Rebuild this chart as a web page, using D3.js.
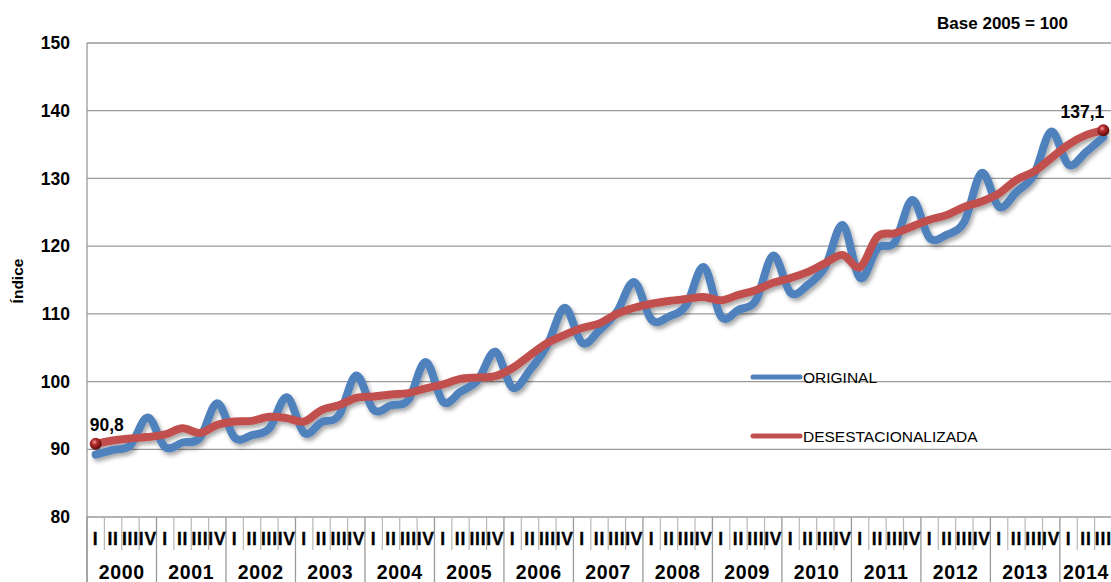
<!DOCTYPE html>
<html>
<head>
<meta charset="utf-8">
<script src="https://cdn.jsdelivr.net/npm/d3@7"></script>
<style>
  html, body { margin: 0; padding: 0; background: #fff; }
  svg { display: block; font-family: "Liberation Sans", Arial, sans-serif; }
</style>
</head>
<body>
<svg id="chart" width="1111" height="582"></svg>
<script>
// ---- Data ----
const years = ["2000","2001","2002","2003","2004","2005","2006","2007","2008","2009","2010","2011","2012","2013","2014"];
const quarterNames = ["I","II","III","IV"];
const yTicks = [80, 90, 100, 110, 120, 130, 140, 150];

const original = [
  89.2, 89.9, 90.6, 94.7,
  90.3, 91.0, 91.7, 96.8,
  91.7, 92.1, 93.1, 97.7,
  92.4, 94.0, 95.0, 100.9,
  95.8, 96.5, 97.3, 102.9,
  97.0, 98.5, 100.2, 104.4,
  99.1, 101.7, 105.4, 110.9,
  105.7, 107.6, 110.3, 114.7,
  109.1, 109.6, 111.3, 116.9,
  109.6, 110.6, 112.0, 118.6,
  113.1, 114.3, 117.0, 123.1,
  115.3, 119.7, 120.6, 126.8,
  121.2, 121.7, 123.6, 130.8,
  125.8, 128.0, 130.5, 136.9,
  132.0, 133.9, 136.1
];
const adjusted = [
  90.8, 91.3, 91.6, 91.8,
  92.2, 93.1, 92.4, 93.6,
  94.1, 94.2, 94.8, 94.6,
  94.1, 95.8, 96.5, 97.6,
  97.8, 98.1, 98.3, 99.0,
  99.6, 100.4, 100.6, 100.8,
  102.0, 103.9, 105.7, 106.9,
  107.9, 108.6, 110.0, 110.9,
  111.5, 111.9, 112.2, 112.5,
  112.0, 112.8, 113.5, 114.6,
  115.3, 116.2, 117.5, 118.7,
  116.9, 121.4, 121.9, 122.9,
  123.9, 124.6, 125.8, 126.6,
  127.8, 129.8, 131.0, 133.0,
  135.0, 136.4, 137.1
];
const seriesNames = ["ORIGINAL", "DESESTACIONALIZADA"];
const seriesColors = ["#4F81BD", "#C0504D"];

(function () {
// quarter ids
const quarters = original.map((d, i) => ({ id: i, year: years[Math.floor(i / 4)], q: quarterNames[i % 4] }));

// ---- Layout ----
const pLeft = 87, pRight = 1112, pTop = 43, pBottom = 517;
const svg = d3.select("#chart");
const font = "'Liberation Sans', Arial, sans-serif";

const x = d3.scaleBand().domain(quarters.map(d => d.id)).range([pLeft, pRight]).padding(0);
const bw = x.bandwidth();
const cx = i => x(i) + bw / 2;
const y = d3.scaleLinear().domain([80, 150]).range([pBottom, pTop]);

// defs
const defs = svg.append("defs");
const f = defs.append("filter").attr("id", "shadow").attr("x", "-10%").attr("y", "-10%").attr("width", "120%").attr("height", "130%");
f.append("feDropShadow").attr("dx", 2).attr("dy", 3).attr("stdDeviation", 2)
  .attr("flood-color", "#000").attr("flood-opacity", 0.35);
const g = defs.append("radialGradient").attr("id", "ball").attr("cx", "40%").attr("cy", "35%").attr("r", "65%");
g.append("stop").attr("offset", "0%").attr("stop-color", "#f3a0a0");
g.append("stop").attr("offset", "35%").attr("stop-color", "#b52a2a");
g.append("stop").attr("offset", "100%").attr("stop-color", "#5a0c0c");

// gridlines
svg.append("g").selectAll("line").data(yTicks).join("line")
  .attr("x1", pLeft).attr("x2", 1111)
  .attr("y1", d => y(d)).attr("y2", d => y(d))
  .attr("stroke", "#9a9a9a").attr("stroke-width", 1.3);

// left axis line
svg.append("line").attr("x1", pLeft).attr("x2", pLeft).attr("y1", pTop).attr("y2", 582)
  .attr("stroke", "#9a9a9a").attr("stroke-width", 1.3);

// y axis labels
const yAxis = d3.axisLeft(y).tickValues(yTicks).tickSize(0).tickPadding(17).tickFormat(d3.format("d"));
const ya = svg.append("g").attr("transform", `translate(${pLeft},0)`).call(yAxis);
ya.select(".domain").remove();
ya.selectAll("text").attr("font-family", font).attr("font-size", 17.5).attr("font-weight", "bold").attr("fill", "#000");

// y title
svg.append("text").attr("transform", "translate(23,281) rotate(-90)")
  .attr("text-anchor", "middle").attr("font-size", 15.5).attr("font-weight", "bold").text("Índice");

// "Base" note
svg.append("text").attr("x", 1068).attr("y", 29).attr("text-anchor", "end")
  .attr("font-size", 17).attr("font-weight", "bold").text("Base 2005 = 100");

// x axis: quarter ticks
const xa = svg.append("g");
xa.selectAll("line.q").data(quarters.filter(d => d.id % 4 !== 0)).join("line").attr("class", "q")
  .attr("x1", d => x(d.id)).attr("x2", d => x(d.id)).attr("y1", pBottom).attr("y2", 550)
  .attr("stroke", "#b8b8b8").attr("stroke-width", 1.2);
xa.selectAll("line.y").data(years).join("line").attr("class", "y")
  .attr("x1", (d, i) => x(i * 4)).attr("x2", (d, i) => x(i * 4)).attr("y1", pBottom).attr("y2", 582)
  .attr("stroke", "#9a9a9a").attr("stroke-width", 1.3);
xa.selectAll("text.q").data(quarters).join("text").attr("class", "q")
  .attr("x", d => cx(d.id)).attr("y", 544.5).attr("text-anchor", "middle")
  .attr("font-size", 17.5).attr("letter-spacing", 0.8).attr("font-weight", "bold")
  .attr("stroke", "#000").attr("stroke-width", 0.3).text(d => d.q);
xa.selectAll("text.y").data(years).join("text").attr("class", "y")
  .attr("x", (d, i) => {
    const n = Math.min(4, original.length - i * 4);
    return (x(i * 4) + x(i * 4 + n - 1) + bw) / 2;
  })
  .attr("y", 579).attr("text-anchor", "middle")
  .attr("font-size", 19.5).attr("letter-spacing", 0.6).attr("font-weight", "bold").text(d => d);

// lines
const line = d3.line().x((d, i) => cx(i)).y(d => y(d)).curve(d3.curveCardinal.tension(0));
const plot = svg.append("g").attr("filter", "url(#shadow)");
plot.append("path").datum(original).attr("d", line).attr("fill", "none")
  .attr("stroke", seriesColors[0]).attr("stroke-width", 8).attr("stroke-linejoin", "round").attr("stroke-linecap", "round");
plot.append("path").datum(adjusted).attr("d", line).attr("fill", "none")
  .attr("stroke", seriesColors[1]).attr("stroke-width", 8).attr("stroke-linejoin", "round").attr("stroke-linecap", "round");

// end markers
const ends = [0, adjusted.length - 1];
svg.append("g").selectAll("circle").data(ends).join("circle")
  .attr("cx", i => cx(i)).attr("cy", i => y(adjusted[i])).attr("r", 6)
  .attr("fill", "url(#ball)");

// data labels
svg.append("text").attr("x", cx(0) - 6).attr("y", y(adjusted[0]) - 13)
  .attr("font-size", 17.5).attr("font-weight", "bold").text(d3.format(".1f")(adjusted[0]).replace(".", ","));
const li = adjusted.length - 1;
svg.append("text").attr("x", cx(li) + 1).attr("y", y(adjusted[li]) - 12).attr("text-anchor", "end")
  .attr("font-size", 17.5).attr("font-weight", "bold").text(d3.format(".1f")(adjusted[li]).replace(".", ","));

// legend
const legY = [377, 436];
const leg = svg.append("g");
seriesNames.forEach((name, i) => {
  leg.append("line").attr("x1", 753).attr("x2", 800).attr("y1", legY[i]).attr("y2", legY[i])
    .attr("stroke", seriesColors[i]).attr("stroke-width", 5).attr("stroke-linecap", "round");
  leg.append("text").attr("x", 803).attr("y", legY[i] + 5.5)
    .attr("font-size", 15.5).attr("fill", "#000").text(name);
});
})();
</script>
</body>
</html>
